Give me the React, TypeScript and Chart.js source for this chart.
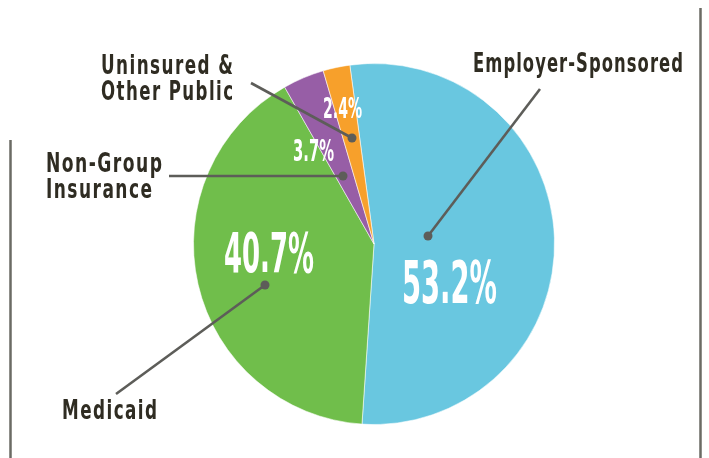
import React, { useEffect, useRef } from "react";
import { Chart, registerables } from "chart.js";

Chart.register(...registerables);

const categories = ["Employer-Sponsored", "Medicaid", "Non-Group Insurance", "Uninsured & Other Public"];
const shares = [53.2, 40.7, 3.7, 2.4];
const sliceColors = ["#69c7e0", "#70be4b", "#975ea6", "#f7a02b"];

const FONT = '"Liberation Sans Narrow", "DejaVu Sans Condensed", "Roboto", sans-serif';
const TEXT_DARK = "#2f2c22";
const LINE_GREY = "#5d5d59";

function drawFit(ctx: CanvasRenderingContext2D, text: string, x: number, baseline: number, width: number, size: number, color: string, spacing = 0) {
  ctx.save();
  ctx.font = `bold ${size}px ${FONT}`;
  (ctx as any).letterSpacing = spacing + "px";
  ctx.fillStyle = color;
  ctx.textBaseline = "alphabetic";
  ctx.textAlign = "left";
  const w = ctx.measureText(text).width - spacing;
  const sx = width / w;
  ctx.translate(x, baseline);
  ctx.scale(sx, 1);
  ctx.fillText(text, 0, 0);
  ctx.restore();
}

const overlay = {
  id: "overlay",
  afterDraw(chart: any) {
    const ctx: CanvasRenderingContext2D = chart.ctx;
    ctx.save();
    ctx.strokeStyle = "#6b6b64";
    ctx.lineWidth = 2.5;
    ctx.beginPath();
    ctx.moveTo(10.5, 140);
    ctx.lineTo(10.5, 458);
    ctx.moveTo(700.5, 8);
    ctx.lineTo(700.5, 458);
    ctx.stroke();

    const leaders = [
      [540, 89, 428, 236],
      [116, 394, 265, 285],
      [169, 176, 343, 176],
      [251, 83, 352, 138],
    ];
    ctx.strokeStyle = LINE_GREY;
    ctx.fillStyle = LINE_GREY;
    ctx.lineWidth = 2.6;
    leaders.forEach(([x1, y1, x2, y2]) => {
      ctx.beginPath();
      ctx.moveTo(x1, y1);
      ctx.lineTo(x2, y2);
      ctx.stroke();
      ctx.beginPath();
      ctx.arc(x2, y2, 4.5, 0, Math.PI * 2);
      ctx.fill();
    });
    ctx.restore();

    drawFit(ctx, "Employer-Sponsored", 473, 72, 210, 26, TEXT_DARK, 1.5);
    drawFit(ctx, "Uninsured &", 101, 74, 132, 26, TEXT_DARK, 2);
    drawFit(ctx, "Other Public", 101, 100, 132, 26, TEXT_DARK, 2);
    drawFit(ctx, "Non-Group", 46, 172, 116, 26, TEXT_DARK, 2);
    drawFit(ctx, "Insurance", 46, 198, 106, 26, TEXT_DARK, 2);
    drawFit(ctx, "Medicaid", 62, 419, 95, 26, TEXT_DARK, 2);

    const vals = shares.map((v) => v.toFixed(1) + "%");
    drawFit(ctx, vals[0], 402, 303, 95, 58, "#ffffff");
    drawFit(ctx, vals[1], 224, 272, 90, 56, "#ffffff");
    drawFit(ctx, vals[2], 293, 161, 41, 30, "#ffffff");
    drawFit(ctx, vals[3], 323, 118, 39, 29, "#ffffff");
  },
};

export default function App() {
  const ref = useRef<HTMLCanvasElement>(null);
  useEffect(() => {
    if (!ref.current) return;
    const chart = new Chart(ref.current, {
      type: "pie",
      data: {
        labels: categories,
        datasets: [
          {
            data: shares,
            backgroundColor: sliceColors,
            borderColor: "rgba(255,255,255,0.55)",
            borderWidth: 1,
          },
        ],
      },
      options: {
        responsive: false,
        animation: false,
        rotation: -7.7,
        layout: { padding: { left: 39, right: 0, top: 63, bottom: 33 } },
        plugins: { legend: { display: false }, tooltip: { enabled: false } },
      },
      plugins: [overlay],
    });
    return () => chart.destroy();
  }, []);
  return (
    <div style={{ position: "fixed", left: 0, top: 0, width: 709, height: 458, background: "#fff" }}>
      <canvas ref={ref} width={709} height={458} style={{ display: "block" }} />
    </div>
  );
}
